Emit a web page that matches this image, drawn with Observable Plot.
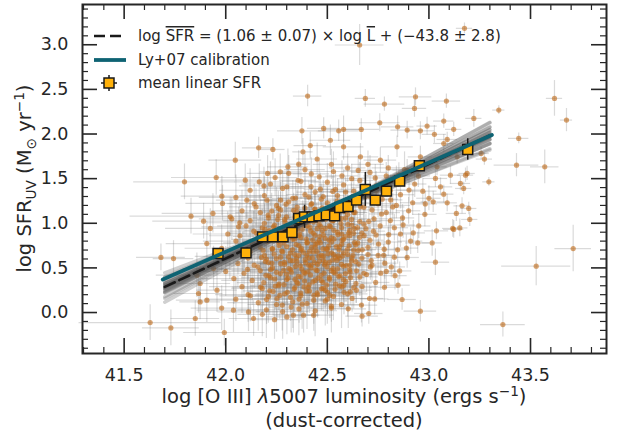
<!DOCTYPE html>
<html><head><meta charset="utf-8">
<script src="https://cdn.jsdelivr.net/npm/d3@7"></script>
<script src="https://cdn.jsdelivr.net/npm/@observablehq/plot@0.6"></script>
<style>body{margin:0;background:#fff;} #chart{width:620px;height:434px;}</style>
</head><body><div id="chart"></div>
<script>
// ---- galaxies: [log L_OIII, log SFR_UV, err log L, err log SFR] ----
const galaxiesCore = [
[42.31,1.56,0.10,0.20],[42.46,1.52,0.08,0.18],[42.53,1.58,0.12,0.22],[42.62,1.50,0.07,0.16],[42.71,1.57,0.09,0.19],[42.79,1.53,0.11,0.15],[42.88,1.60,0.08,0.2],
[42.22,1.44,0.14,0.25],[42.37,1.47,0.09,0.2],[42.42,1.41,0.1,0.18],[42.50,1.46,0.08,0.21],[42.58,1.43,0.12,0.17],[42.66,1.48,0.07,0.2],[42.74,1.42,0.1,0.16],[42.84,1.46,0.09,0.18],[42.93,1.44,0.06,0.15],
[42.12,1.37,0.15,0.24],[42.28,1.39,0.11,0.2],[42.44,1.35,0.09,0.17],[42.54,1.38,0.1,0.19],[42.63,1.36,0.08,0.16],[42.69,1.40,0.07,0.18],[42.81,1.37,0.09,0.17],[42.97,1.36,0.07,0.14],
[42.05,1.29,0.18,0.25],[42.19,1.31,0.12,0.21],[42.33,1.28,0.1,0.2],[42.39,1.32,0.09,0.18],[42.47,1.27,0.08,0.17],[42.55,1.31,0.1,0.19],[42.60,1.26,0.07,0.16],[42.71,1.30,0.09,0.17],[42.77,1.27,0.08,0.15],[42.86,1.32,0.07,0.16],[43.00,1.28,0.06,0.14],
[42.14,1.22,0.13,0.22],[42.25,1.20,0.11,0.2],[42.31,1.24,0.1,0.19],[42.42,1.21,0.09,0.18],[42.50,1.23,0.08,0.17],[42.58,1.19,0.1,0.18],[42.64,1.23,0.07,0.16],[42.68,1.18,0.08,0.17],[42.75,1.22,0.09,0.16],[42.84,1.20,0.07,0.15],[42.92,1.23,0.06,0.14],
[42.08,1.14,0.15,0.23],[42.17,1.12,0.12,0.2],[42.27,1.15,0.1,0.2],[42.35,1.13,0.09,0.19],[42.44,1.16,0.08,0.18],[42.49,1.11,0.09,0.17],[42.56,1.14,0.08,0.18],[42.63,1.12,0.07,0.17],[42.72,1.15,0.08,0.16],[42.79,1.12,0.07,0.15],[42.90,1.14,0.06,0.15],[42.98,1.10,0.06,0.14],
[42.03,1.05,0.16,0.24],[42.12,1.03,0.13,0.22],[42.21,1.06,0.11,0.2],[42.29,1.04,0.1,0.19],[42.34,1.07,0.09,0.2],[42.41,1.02,0.09,0.18],[42.47,1.05,0.08,0.18],[42.53,1.03,0.08,0.17],[42.59,1.06,0.07,0.17],[42.66,1.02,0.08,0.16],[42.73,1.05,0.07,0.16],[42.81,1.03,0.07,0.15],[42.87,1.06,0.06,0.15],
[42.10,0.97,0.14,0.23],[42.18,0.95,0.12,0.21],[42.24,0.98,0.11,0.2],[42.32,0.96,0.1,0.2],[42.38,0.99,0.09,0.19],[42.45,0.94,0.09,0.18],[42.51,0.97,0.08,0.18],[42.57,0.95,0.08,0.17],[42.62,0.98,0.07,0.17],[42.69,0.94,0.08,0.16],[42.76,0.97,0.07,0.16],[42.83,0.95,0.07,0.15],[42.95,0.97,0.06,0.14],
[42.01,0.88,0.17,0.25],[42.07,0.86,0.15,0.23],[42.15,0.89,0.13,0.22],[42.22,0.87,0.12,0.21],[42.28,0.90,0.1,0.2],[42.36,0.86,0.1,0.2],[42.43,0.89,0.09,0.19],[42.48,0.87,0.08,0.18],[42.55,0.90,0.08,0.18],[42.61,0.86,0.08,0.17],[42.67,0.89,0.07,0.17],[42.74,0.87,0.07,0.16],[42.86,0.88,0.07,0.15],
[42.05,0.80,0.16,0.24],[42.13,0.78,0.14,0.23],[42.20,0.81,0.12,0.22],[42.26,0.79,0.11,0.21],[42.33,0.82,0.1,0.2],[42.40,0.78,0.1,0.2],[42.46,0.81,0.09,0.19],[42.52,0.79,0.08,0.19],[42.58,0.82,0.08,0.18],[42.65,0.78,0.08,0.17],[42.71,0.81,0.07,0.17],[42.80,0.79,0.07,0.16],[42.91,0.80,0.06,0.15],
[41.98,0.72,0.18,0.26],[42.09,0.70,0.15,0.24],[42.17,0.73,0.13,0.23],[42.23,0.71,0.12,0.22],[42.30,0.74,0.11,0.21],[42.37,0.70,0.1,0.21],[42.44,0.73,0.09,0.2],[42.50,0.71,0.09,0.19],[42.56,0.74,0.08,0.19],[42.63,0.70,0.08,0.18],[42.70,0.73,0.07,0.18],[42.78,0.71,0.07,0.17],
[42.02,0.63,0.17,0.26],[42.11,0.61,0.15,0.25],[42.19,0.64,0.13,0.24],[42.27,0.62,0.12,0.23],[42.34,0.65,0.11,0.22],[42.41,0.61,0.1,0.22],[42.47,0.64,0.09,0.21],[42.54,0.62,0.09,0.2],[42.60,0.65,0.08,0.2],[42.67,0.61,0.08,0.19],[42.75,0.64,0.07,0.18],[42.83,0.62,0.07,0.17],
[42.06,0.55,0.16,0.27],[42.14,0.53,0.14,0.26],[42.21,0.56,0.13,0.25],[42.29,0.54,0.12,0.24],[42.35,0.57,0.11,0.23],[42.42,0.53,0.1,0.23],[42.49,0.56,0.09,0.22],[42.57,0.54,0.09,0.21],[42.64,0.57,0.08,0.2],[42.72,0.53,0.08,0.19],
[42.00,0.46,0.17,0.28],[42.09,0.44,0.15,0.27],[42.17,0.47,0.14,0.26],[42.25,0.45,0.13,0.25],[42.32,0.48,0.12,0.24],[42.39,0.44,0.11,0.24],[42.45,0.47,0.1,0.23],[42.53,0.45,0.09,0.22],[42.61,0.48,0.09,0.21],[42.68,0.44,0.08,0.2],[42.79,0.46,0.07,0.19],
[42.04,0.38,0.16,0.29],[42.13,0.36,0.15,0.28],[42.22,0.39,0.14,0.27],[42.30,0.37,0.13,0.26],[42.37,0.40,0.12,0.25],[42.44,0.36,0.11,0.25],[42.51,0.39,0.1,0.24],[42.58,0.37,0.09,0.23],[42.66,0.40,0.09,0.22],
[42.08,0.29,0.16,0.3],[42.18,0.27,0.15,0.29],[42.26,0.30,0.14,0.28],[42.34,0.28,0.13,0.27],[42.41,0.31,0.12,0.26],[42.48,0.27,0.11,0.26],[42.56,0.30,0.1,0.25],[42.63,0.28,0.09,0.24],
[42.11,0.20,0.16,0.31],[42.21,0.18,0.15,0.3],[42.29,0.21,0.14,0.29],[42.37,0.19,0.13,0.28],[42.45,0.22,0.12,0.27],[42.53,0.18,0.11,0.27],[42.60,0.21,0.1,0.26],
[42.16,0.11,0.15,0.32],[42.25,0.09,0.14,0.31],[42.33,0.12,0.13,0.3],[42.40,0.10,0.12,0.29],[42.49,0.13,0.11,0.28],[42.57,0.09,0.1,0.27],
[42.20,0.03,0.14,0.32],[42.28,0.01,0.13,0.31],[42.36,0.04,0.12,0.3],[42.44,0.02,0.11,0.29],[42.52,0.05,0.1,0.28],
[42.26,1.09,0.1,0.2],[42.31,0.92,0.1,0.2],[42.36,0.75,0.1,0.21],[42.39,1.17,0.09,0.19],[42.43,0.68,0.09,0.21],[42.46,0.99,0.09,0.19],[42.48,0.59,0.09,0.22],[42.52,0.84,0.08,0.19],[42.55,1.08,0.08,0.18],[42.58,0.67,0.08,0.2],[42.61,0.92,0.08,0.18],[42.64,0.76,0.08,0.19],
[42.33,0.58,0.11,0.23],[42.37,0.84,0.1,0.2],[42.40,0.97,0.1,0.19],[42.42,0.50,0.1,0.23],[42.45,0.78,0.09,0.2],[42.50,1.13,0.08,0.18],[42.53,0.65,0.08,0.2],[42.57,0.88,0.08,0.19],[42.28,0.68,0.11,0.22],[42.24,0.93,0.12,0.21],
[42.20,0.60,0.13,0.23],[42.30,0.43,0.12,0.24],[42.35,0.34,0.12,0.25],[42.47,0.36,0.1,0.24],[42.55,0.49,0.09,0.22],[42.62,0.58,0.08,0.21],[42.68,0.99,0.07,0.17],[42.70,0.65,0.08,0.19],[42.27,1.26,0.1,0.2],[42.48,1.30,0.08,0.18],
[42.59,1.35,0.08,0.17],[42.40,0.24,0.12,0.27],[42.50,0.15,0.11,0.28],[42.16,0.82,0.13,0.22],[42.12,0.68,0.14,0.23],[42.19,1.00,0.12,0.21],[42.23,0.50,0.13,0.24],[42.60,1.10,0.08,0.17]
];
const galaxiesDense = [
[42.213,0.412,0.12,0.24],[42.238,0.655,0.11,0.22],[42.247,0.872,0.1,0.2],[42.262,0.318,0.12,0.25],[42.271,0.547,0.11,0.23],[42.284,0.781,0.1,0.21],[42.292,1.012,0.09,0.2],[42.303,0.226,0.12,0.26],
[42.311,0.493,0.11,0.23],[42.318,0.667,0.1,0.22],[42.326,0.853,0.1,0.2],[42.334,1.146,0.09,0.19],[42.341,0.372,0.11,0.24],[42.348,0.611,0.1,0.22],[42.353,0.932,0.09,0.2],[42.361,0.151,0.12,0.27],
[42.367,0.524,0.1,0.23],[42.372,0.718,0.1,0.21],[42.379,1.061,0.09,0.19],[42.386,0.287,0.11,0.25],[42.391,0.594,0.1,0.22],[42.397,0.823,0.09,0.2],[42.404,0.457,0.1,0.23],[42.411,0.682,0.09,0.21],
[42.418,0.911,0.09,0.2],[42.423,1.221,0.08,0.18],[42.429,0.343,0.1,0.24],[42.436,0.561,0.09,0.22],[42.441,0.764,0.09,0.2],[42.447,1.033,0.08,0.19],[42.452,0.198,0.1,0.26],[42.458,0.629,0.09,0.21],
[42.463,0.852,0.08,0.2],[42.469,0.417,0.09,0.23],[42.474,1.174,0.08,0.18],[42.479,0.713,0.09,0.2],[42.486,0.536,0.08,0.22],[42.491,0.943,0.08,0.19],[42.497,0.308,0.09,0.24],[42.503,0.658,0.08,0.21],
[42.508,0.812,0.08,0.2],[42.514,1.072,0.08,0.18],[42.519,0.472,0.08,0.22],[42.526,0.589,0.08,0.21],[42.532,0.923,0.08,0.19],[42.538,0.261,0.09,0.24],[42.544,0.738,0.08,0.2],[42.549,1.251,0.07,0.17],
[42.556,0.403,0.08,0.22],[42.561,0.611,0.08,0.21],[42.567,0.998,0.07,0.18],[42.573,0.812,0.07,0.19],[42.579,0.521,0.08,0.21],[42.586,1.132,0.07,0.17],[42.592,0.347,0.08,0.23],[42.598,0.705,0.07,0.19],
[42.605,0.891,0.07,0.18],[42.612,0.452,0.07,0.21],[42.619,1.043,0.07,0.17],[42.626,0.641,0.07,0.19],[42.634,0.784,0.07,0.18],[42.641,0.324,0.08,0.22],[42.648,0.952,0.07,0.17],[42.655,0.543,0.07,0.2],
[42.663,1.184,0.06,0.16],[42.672,0.703,0.07,0.18],[42.681,0.861,0.06,0.17],[42.693,0.426,0.07,0.2],[42.704,1.021,0.06,0.16],[42.716,0.582,0.07,0.19],[42.727,0.912,0.06,0.17],[42.738,0.337,0.07,0.2],
[42.752,0.768,0.06,0.17],[42.767,1.104,0.06,0.16],[42.783,0.553,0.06,0.18],[42.802,0.872,0.06,0.16],[42.822,1.183,0.06,0.15],[42.846,0.702,0.06,0.16],
[42.158,0.512,0.13,0.25],[42.172,0.284,0.14,0.27],[42.184,0.698,0.12,0.23],[42.193,0.936,0.12,0.21],[42.201,0.147,0.13,0.28],[42.226,1.137,0.11,0.2],[42.233,0.236,0.12,0.27],[42.256,1.043,0.1,0.2],
[42.278,0.083,0.12,0.29],[42.297,1.214,0.1,0.19],[42.322,0.061,0.11,0.29],[42.344,1.282,0.09,0.19],[42.376,0.094,0.11,0.28],[42.409,1.294,0.09,0.18],[42.433,0.138,0.1,0.27],[42.466,1.382,0.08,0.18],
[42.512,0.192,0.1,0.26],[42.527,1.357,0.08,0.17],[42.582,0.226,0.09,0.25],[42.618,1.281,0.07,0.17],[42.671,0.292,0.08,0.23],[42.686,1.297,0.07,0.17],[42.741,1.364,0.07,0.16],[42.763,0.441,0.07,0.19],
[42.812,1.262,0.06,0.15],[42.873,0.981,0.06,0.15],[42.902,1.372,0.06,0.14],[42.138,0.912,0.13,0.22],[42.107,0.483,0.15,0.26],[42.121,0.187,0.15,0.29],[42.083,0.652,0.15,0.25],[42.069,1.006,0.16,0.23],
[42.149,1.183,0.13,0.21],[42.188,1.418,0.12,0.21],[42.243,1.512,0.11,0.21],[42.356,1.481,0.09,0.19],[42.421,1.553,0.09,0.18],[42.572,1.531,0.08,0.17],[42.652,1.592,0.07,0.16],[42.736,1.508,0.07,0.15],
[42.852,1.537,0.06,0.14],[42.948,1.531,0.06,0.13],[42.982,1.217,0.06,0.14],[42.923,0.892,0.06,0.14],[42.889,0.722,0.06,0.15],[42.833,0.413,0.06,0.16],[42.781,0.283,0.07,0.17],[42.733,0.152,0.07,0.18],
[42.668,0.083,0.08,0.2],[42.603,0.042,0.09,0.22]
];
const galaxiesDenser = [
[42.187,0.334,0.13,0.26],[42.195,0.571,0.12,0.24],[42.204,0.793,0.12,0.22],[42.209,1.092,0.11,0.2],[42.216,0.243,0.13,0.27],[42.221,0.482,0.12,0.24],[42.229,0.716,0.11,0.22],[42.235,0.961,0.11,0.2],
[42.241,0.377,0.12,0.25],[42.249,0.604,0.11,0.23],[42.253,0.823,0.11,0.21],[42.259,1.168,0.1,0.19],[42.266,0.192,0.12,0.27],[42.269,0.436,0.11,0.24],[42.275,0.688,0.11,0.22],[42.281,0.918,0.1,0.2],
[42.287,0.312,0.11,0.25],[42.289,0.563,0.11,0.23],[42.295,0.804,0.1,0.21],[42.299,1.071,0.1,0.19],[42.306,0.383,0.11,0.24],[42.309,0.624,0.1,0.22],[42.314,0.867,0.1,0.2],[42.319,0.171,0.11,0.27],
[42.323,0.452,0.1,0.24],[42.329,0.706,0.1,0.21],[42.331,0.991,0.09,0.2],[42.337,0.263,0.11,0.26],[42.343,0.517,0.1,0.23],[42.346,0.762,0.1,0.21],[42.351,1.182,0.09,0.19],[42.357,0.404,0.1,0.24],
[42.359,0.641,0.1,0.22],[42.364,0.879,0.09,0.2],[42.369,0.218,0.1,0.26],[42.374,0.487,0.1,0.23],[42.377,0.933,0.09,0.2],[42.382,0.676,0.09,0.21],[42.388,0.352,0.1,0.24],[42.393,0.558,0.09,0.22],
[42.395,1.104,0.09,0.19],[42.401,0.787,0.09,0.21],[42.406,0.283,0.1,0.25],[42.408,0.532,0.09,0.22],[42.414,0.956,0.09,0.2],[42.417,0.421,0.09,0.23],[42.422,0.729,0.09,0.21],[42.426,0.612,0.09,0.22],
[42.431,1.016,0.08,0.19],[42.434,0.193,0.1,0.26],[42.439,0.867,0.08,0.2],[42.443,0.478,0.09,0.23],[42.449,0.683,0.08,0.21],[42.454,0.387,0.09,0.24],[42.456,1.122,0.08,0.18],[42.461,0.572,0.08,0.22],
[42.466,0.781,0.08,0.2],[42.471,0.266,0.09,0.25],[42.476,0.917,0.08,0.19],[42.481,0.634,0.08,0.21],[42.484,0.442,0.08,0.23],[42.489,0.832,0.08,0.2],[42.493,1.047,0.08,0.18],[42.498,0.511,0.08,0.22],
[42.501,0.227,0.09,0.25],[42.506,0.743,0.08,0.2],[42.511,0.374,0.08,0.23],[42.516,0.962,0.07,0.19],[42.521,0.668,0.08,0.21],[42.528,0.493,0.08,0.22],[42.533,0.823,0.07,0.19],[42.536,1.168,0.07,0.17],
[42.541,0.318,0.08,0.23],[42.547,0.587,0.08,0.21],[42.552,0.873,0.07,0.19],[42.558,0.703,0.07,0.2],[42.563,0.412,0.08,0.22],[42.569,1.053,0.07,0.18],[42.575,0.632,0.07,0.2],[42.581,0.307,0.08,0.23],
[42.587,0.851,0.07,0.19],[42.593,0.526,0.07,0.21],[42.601,0.987,0.07,0.18],[42.607,0.748,0.07,0.19],[42.614,0.391,0.07,0.22],[42.621,0.612,0.07,0.2],[42.629,0.887,0.07,0.18],[42.636,1.122,0.06,0.17],
[42.644,0.468,0.07,0.21],[42.652,0.698,0.07,0.19],[42.659,0.842,0.06,0.18],[42.227,0.552,0.12,0.23],[42.244,0.297,0.12,0.26],[42.263,0.751,0.11,0.21],[42.285,0.472,0.11,0.24],[42.302,0.963,0.1,0.2],
[42.317,0.582,0.1,0.22],[42.339,0.823,0.1,0.21],[42.355,0.324,0.1,0.25],[42.362,1.021,0.09,0.19],[42.384,0.452,0.1,0.23],[42.399,0.642,0.09,0.21],[42.412,0.241,0.1,0.25],[42.428,0.812,0.09,0.2],
[42.437,1.153,0.08,0.18],[42.451,0.537,0.09,0.22],[42.468,0.963,0.08,0.19],[42.478,0.338,0.09,0.24],[42.495,0.712,0.08,0.2],[42.509,0.561,0.08,0.21],[42.524,1.027,0.07,0.18],[42.539,0.442,0.08,0.22],
[42.553,0.634,0.08,0.2],[42.571,0.768,0.07,0.19],[42.589,0.437,0.08,0.22],[42.611,0.532,0.07,0.21],[42.633,0.941,0.07,0.18],[42.215,0.918,0.12,0.21],[42.198,0.417,0.13,0.25],[42.176,0.617,0.13,0.24],
[42.168,0.852,0.13,0.22]
];
const galaxiesFringe = [
[42.403,2.425,0.07,0.12],[42.375,2.036,0.12,0.15],[42.416,1.87,0.08,0.15],[42.162,1.845,0.08,0.12],[42.232,1.827,0.06,0.12],[42.38,1.80,0.05,0.15],
[42.047,1.707,0.13,0.2],[41.953,1.513,0.22,0.2],[42.096,1.483,0.12,0.18],[42.306,1.632,0.1,0.2],[42.359,1.662,0.06,0.15],[41.797,1.464,0.25,0.2],
[42.104,1.259,0.15,0.2],[41.829,1.08,0.30,0.2],[42.203,1.259,0.1,0.2],[41.937,1.11,0.25,0.22],[41.681,0.617,0.12,0.15],[41.743,0.605,0.1,0.2],
[41.628,-0.112,0.35,0.2],[41.730,-0.173,0.14,0.2],[41.993,-0.224,0.2,0.15],[41.907,0.138,0.15,0.25],[41.957,0.25,0.1,0.25],[42.038,0.026,0.18,0.25],
[42.112,0.007,0.15,0.22],[42.301,-0.049,0.1,0.2],[42.333,-0.03,0.1,0.2],[42.383,-0.03,0.08,0.2],[42.137,-0.067,0.12,0.2],[41.858,0.418,0.2,0.25],
[41.874,0.325,0.15,0.22],[41.94,0.493,0.15,0.25],[41.85,-0.067,0.12,0.2],[41.866,0.213,0.12,0.22],[41.874,0.119,0.1,0.2],
[43.528,0.519,0.17,0.22],[43.710,0.717,0.09,0.26],[43.364,-0.135,0.11,0.14],[42.958,0.015,0.08,0.12],[42.868,0.146,0.07,0.12],[42.848,0.306,0.06,0.1],
[42.856,0.466,0.06,0.1],[43.032,0.564,0.07,0.15],[43.016,0.78,0.05,0.15],[42.945,0.78,0.06,0.12],[42.671,-0.041,0.08,0.12],[42.704,-0.011,0.07,0.12],
[42.433,-0.03,0.1,0.18],[42.622,0.157,0.08,0.15],[42.708,0.157,0.07,0.15],[42.52,0.071,0.09,0.18],[42.815,0.511,0.07,0.12],[42.893,0.617,0.06,0.12],
[43.201,1.043,0.04,0.08],[43.117,0.942,0.05,0.1],[43.037,0.915,0.06,0.1],[43.618,2.399,0.04,0.2],[43.677,2.156,0.03,0.13],[43.344,2.268,0.03,0.05],
[43.442,1.951,0.05,0.06],[43.431,1.651,0.11,0.13],[43.570,1.632,0.07,0.19],[43.295,1.464,0.03,0.05],[43.273,1.719,0.04,0.07],[43.257,1.782,0.04,0.07],
[43.086,2.369,0.07,0.08],[43.073,2.145,0.05,0.08],[43.122,2.052,0.04,0.08],[43.221,2.175,0.04,0.1],[43.027,1.996,0.06,0.1],[43.09,1.939,0.05,0.08],
[43.18,1.539,0.04,0.08],[43.155,1.446,0.05,0.08],[43.171,1.39,0.04,0.07],[43.196,1.166,0.04,0.07],[43.106,1.539,0.05,0.1],[43.057,1.408,0.06,0.1],
[43.073,1.326,0.05,0.1],[43.032,1.502,0.06,0.1],[43.021,1.24,0.06,0.12],[43.09,1.229,0.05,0.1],[43.163,1.195,0.04,0.09],[43.135,1.11,0.05,0.09],
[43.122,0.931,0.05,0.1],[43.152,0.948,0.04,0.1],[43.175,3.184,0.04,0.06],[42.659,2.997,0.12,0.23],[42.687,2.399,0.05,0.1],[42.781,2.335,0.1,0.08],
[42.934,2.417,0.08,0.1],[42.929,2.287,0.06,0.1],[42.482,2.063,0.08,0.12],[42.58,2.052,0.1,0.15],[42.758,2.126,0.1,0.1],[42.846,2.081,0.08,0.12],
[42.958,2.036,0.07,0.1],[42.991,2.089,0.05,0.1],[42.556,2.036,0.1,0.12],[42.667,2.051,0.09,0.12],[42.893,2.044,0.08,0.1],
[41.981,1.304,0.2,0.22],[41.891,1.024,0.25,0.2],[41.984,1.222,0.18,0.2],[42.165,1.464,0.12,0.2],[42.206,1.558,0.1,0.2],[42.268,1.576,0.1,0.2],
[42.301,1.408,0.12,0.2],[42.022,1.072,0.2,0.22],[42.063,0.96,0.18,0.22],[41.907,0.773,0.2,0.25],[41.924,0.942,0.22,0.22],
[42.712,0.511,0.07,0.15],[42.613,0.231,0.08,0.15],[42.643,0.25,0.08,0.15],[42.572,0.287,0.08,0.15],[42.49,0.25,0.1,0.2],[42.777,0.642,0.06,0.12],[42.252,0.157,0.12,0.25],
[42.843,1.857,0.08,0.12],[42.761,1.707,0.08,0.14],[42.663,1.744,0.09,0.15],[42.58,1.857,0.1,0.15],[42.515,1.93,0.1,0.17],[42.893,1.595,0.07,0.12],
[43.073,1.894,0.05,0.1],[43.139,1.744,0.04,0.08],[43.04,1.632,0.05,0.1],[43.188,1.558,0.04,0.08],[42.958,1.744,0.06,0.12],
[42.45,1.72,0.1,0.18],[42.52,1.66,0.09,0.17],[42.60,1.62,0.09,0.16],[42.39,1.60,0.1,0.18],[42.70,1.66,0.08,0.15],[42.80,1.62,0.08,0.14],
[42.18,-0.02,0.12,0.25],[42.24,-0.08,0.12,0.22],[42.05,0.15,0.15,0.25],[41.98,0.05,0.15,0.25]
];
// ---- mean linear SFR in bins ----
const meanLogL   = [41.962,42.100,42.181,42.231,42.282,42.326,42.359,42.388,42.425,42.459,42.495,42.536,42.561,42.602,42.644,42.687,42.736,42.791,42.856,42.953,43.191];
const meanLogSFR = [0.661,0.668,0.848,0.848,0.848,0.897,1.054,1.072,1.072,1.083,1.094,1.083,1.177,1.188,1.259,1.379,1.259,1.360,1.472,1.644,1.827];
const meanErr    = [0.05,0.04,0.04,0.03,0.03,0.04,0.06,0.13,0.04,0.03,0.03,0.03,0.05,0.04,0.06,0.19,0.05,0.05,0.04,0.05,0.12];
// ---- fit and bootstrap fits ----
const fitSlope = 1.06, fitIntercept = -43.915, fitRange = [41.70, 43.30];
const bootPivotX = 42.45;
const bootSlopes = [0.86,0.90,0.93,0.96,0.98,1.00,1.01,1.02,1.03,1.04,1.05,1.06,1.06,1.07,1.08,1.09,1.10,1.11,1.12,1.14,1.16,1.19,1.23,1.26];
const bootPivotY = [1.09,1.07,1.10,1.08,1.06,1.09,1.08,1.07,1.10,1.08,1.09,1.08,1.07,1.09,1.08,1.06,1.08,1.10,1.07,1.08,1.09,1.07,1.08,1.06];
// ---- Ly+07 calibration ----
const lySlope = 1.0, lyIntercept = -41.32, lyRange = [41.69, 43.31];
// ---- axes ----
const xTicks = [41.5, 42.0, 42.5, 43.0, 43.5];
const yTicks = [0.0, 0.5, 1.0, 1.5, 2.0, 2.5, 3.0];
const xMinor = [41.3,41.4,41.6,41.7,41.8,41.9,42.1,42.2,42.3,42.4,42.6,42.7,42.8,42.9,43.1,43.2,43.3,43.4,43.6,43.7,43.8];
const yMinor = [-0.4,-0.3,-0.2,-0.1,0.1,0.2,0.3,0.4,0.6,0.7,0.8,0.9,1.1,1.2,1.3,1.4,1.6,1.7,1.8,1.9,2.1,2.2,2.3,2.4,2.6,2.7,2.8,2.9,3.1,3.2,3.3,3.4];
const xLabel = [["log [O III] "],["λ","it"],["5007 luminosity (ergs s"],["−1","sup"],[")"]];
const xLabel2 = "(dust-corrected)";
const yLabel = [["log SFR"],["UV","sub"],[" (M"],["⊙","sub"],[" yr"],["−1","sup"],[")"]];
const legendFit = [["log "],["SFR","ol"],[" = (1.06 ± 0.07) × log "],["L","ol"],[" + (−43.8 ± 2.8)"]];
const legendLy = "Ly+07 calibration";
const legendMean = "mean linear SFR";

const C = {dot:"#c06c1c", err:"#777777", teal:"#0e6373", amber:"#ffb10a", ink:"#262626"};
const W = 620, H = 434, mL = 82, mR = 14, mT = 4, mB = 81;
const fw = W - mL - mR, fh = H - mT - mB;
const galaxies = galaxiesCore.concat(galaxiesDense, galaxiesDenser, galaxiesFringe);
const means = meanLogL.map((x,i)=>({x, y: meanLogSFR[i], e: meanErr[i]}));
const bootLines = bootSlopes.flatMap((s,i)=>fitRange.map(x=>({k:i, x, y: bootPivotY[i] + s*(x - bootPivotX)})));
const fitLine = fitRange.map(x=>({x, y: fitSlope*x + fitIntercept}));
const lyLine = lyRange.map(x=>({x, y: lySlope*x + lyIntercept}));

const chart = Plot.plot({
  width: W, height: H, marginLeft: mL, marginRight: mR, marginTop: mT, marginBottom: mB,
  style: {fontFamily: "DejaVu Sans", fontSize: "17.5px", color: C.ink, background: "white"},
  x: {domain: [41.295, 43.874], label: null},
  y: {domain: [-0.459, 3.451], label: null},
  marks: [
    Plot.ruleY(galaxies, {y: d=>d[1], x1: d=>d[0]-d[2], x2: d=>d[0]+d[2], stroke: C.err, strokeOpacity: 0.27, strokeWidth: 1.2}),
    Plot.ruleX(galaxies, {x: d=>d[0], y1: d=>d[1]-d[3], y2: d=>d[1]+d[3], stroke: C.err, strokeOpacity: 0.27, strokeWidth: 1.2}),
    Plot.dot(galaxies, {x: d=>d[0], y: d=>d[1], r: 2.6, fill: C.dot, fillOpacity: 0.62}),
    Plot.line(bootLines, {x: "x", y: "y", z: "k", stroke: "#555", strokeOpacity: 0.28, strokeWidth: 3.5}),
    Plot.line(fitLine, {x: "x", y: "y", stroke: "#1a1a1a", strokeWidth: 2.6, strokeDasharray: "11,5"}),
    Plot.ruleX(means, {x: "x", y1: d=>d.y-d.e, y2: d=>d.y+d.e, stroke: "#1a1a1a", strokeWidth: 1.5}),
    Plot.dot(means, {x: "x", y: "y", symbol: "square", r: 5.6, fill: C.amber, stroke: "#1a1a1a", strokeWidth: 1.5}),
    Plot.line(lyLine, {x: "x", y: "y", stroke: C.teal, strokeWidth: 3.8}),
    Plot.tickX(xTicks, {x: d=>d, insetTop: fh-15, stroke: C.ink, strokeWidth: 1.6}),
    Plot.tickX(xTicks, {x: d=>d, insetBottom: fh-15, stroke: C.ink, strokeWidth: 1.6}),
    Plot.tickX(xMinor, {x: d=>d, insetTop: fh-6, stroke: C.ink, strokeWidth: 1.2}),
    Plot.tickX(xMinor, {x: d=>d, insetBottom: fh-6, stroke: C.ink, strokeWidth: 1.2}),
    Plot.tickY(yTicks, {y: d=>d, insetRight: fw-15, stroke: C.ink, strokeWidth: 1.6}),
    Plot.tickY(yTicks, {y: d=>d, insetLeft: fw-15, stroke: C.ink, strokeWidth: 1.6}),
    Plot.tickY(yMinor, {y: d=>d, insetRight: fw-6, stroke: C.ink, strokeWidth: 1.2}),
    Plot.tickY(yMinor, {y: d=>d, insetLeft: fw-6, stroke: C.ink, strokeWidth: 1.2}),
    Plot.axisX({ticks: xTicks, tickSize: 0, tickPadding: 15, tickFormat: d=>d.toFixed(1), label: null}),
    Plot.axisY({ticks: yTicks, tickSize: 0, tickPadding: 14, tickFormat: d=>d.toFixed(1), label: null}),
    Plot.frame({stroke: C.ink, strokeWidth: 2})
  ]
});
document.getElementById("chart").appendChild(chart);

const svg = d3.select(chart);
function richText(parent, parts, size, anchor) {
  const t = parent.append("text").attr("font-size", size).attr("fill", C.ink)
    .attr("font-family", "DejaVu Sans").attr("text-anchor", anchor);
  let shift = 0;
  for (const [s, kind] of parts) {
    const sp = t.append("tspan").text(s);
    let target = 0;
    if (kind === "sub") { sp.attr("font-size", size*0.7); target = size*0.25; }
    else if (kind === "sup") { sp.attr("font-size", size*0.7); target = -size*0.38; }
    else if (kind === "it") sp.attr("font-style", "italic");
    else if (kind === "ol") sp.style("text-decoration", "overline");
    if (target !== shift) { sp.attr("dy", target - shift); shift = target; }
  }
  return t;
}
const cx = mL + fw/2, cy = mT + fh/2;
richText(svg, xLabel, 19.5, "middle").attr("x", cx).attr("y", 403);
richText(svg, [[xLabel2]], 19.5, "middle").attr("x", cx).attr("y", 427);
richText(svg, yLabel, 19.5, "middle").attr("transform", `translate(31,${cy}) rotate(-90)`);

// legend
const lg = svg.append("g");
lg.append("line").attr("x1", 94).attr("x2", 124).attr("y1", 36).attr("y2", 36).attr("stroke", "#1a1a1a").attr("stroke-width", 2.6).attr("stroke-dasharray", "11,5");
richText(lg, legendFit, 15, "start").attr("x", 138).attr("y", 41);
lg.append("line").attr("x1", 94).attr("x2", 126).attr("y1", 60).attr("y2", 60).attr("stroke", C.teal).attr("stroke-width", 3.8);
richText(lg, [[legendLy]], 15, "start").attr("x", 138).attr("y", 65);
lg.append("line").attr("x1", 101).attr("x2", 117).attr("y1", 83).attr("y2", 83).attr("stroke", "#1a1a1a").attr("stroke-width", 1.5);
lg.append("line").attr("x1", 109).attr("x2", 109).attr("y1", 75).attr("y2", 91).attr("stroke", "#1a1a1a").attr("stroke-width", 1.5);
lg.append("rect").attr("x", 104).attr("y", 78).attr("width", 10).attr("height", 10).attr("fill", C.amber).attr("stroke", "#1a1a1a").attr("stroke-width", 1.5);
richText(lg, [[legendMean]], 15, "start").attr("x", 138).attr("y", 88);
</script></body></html>
